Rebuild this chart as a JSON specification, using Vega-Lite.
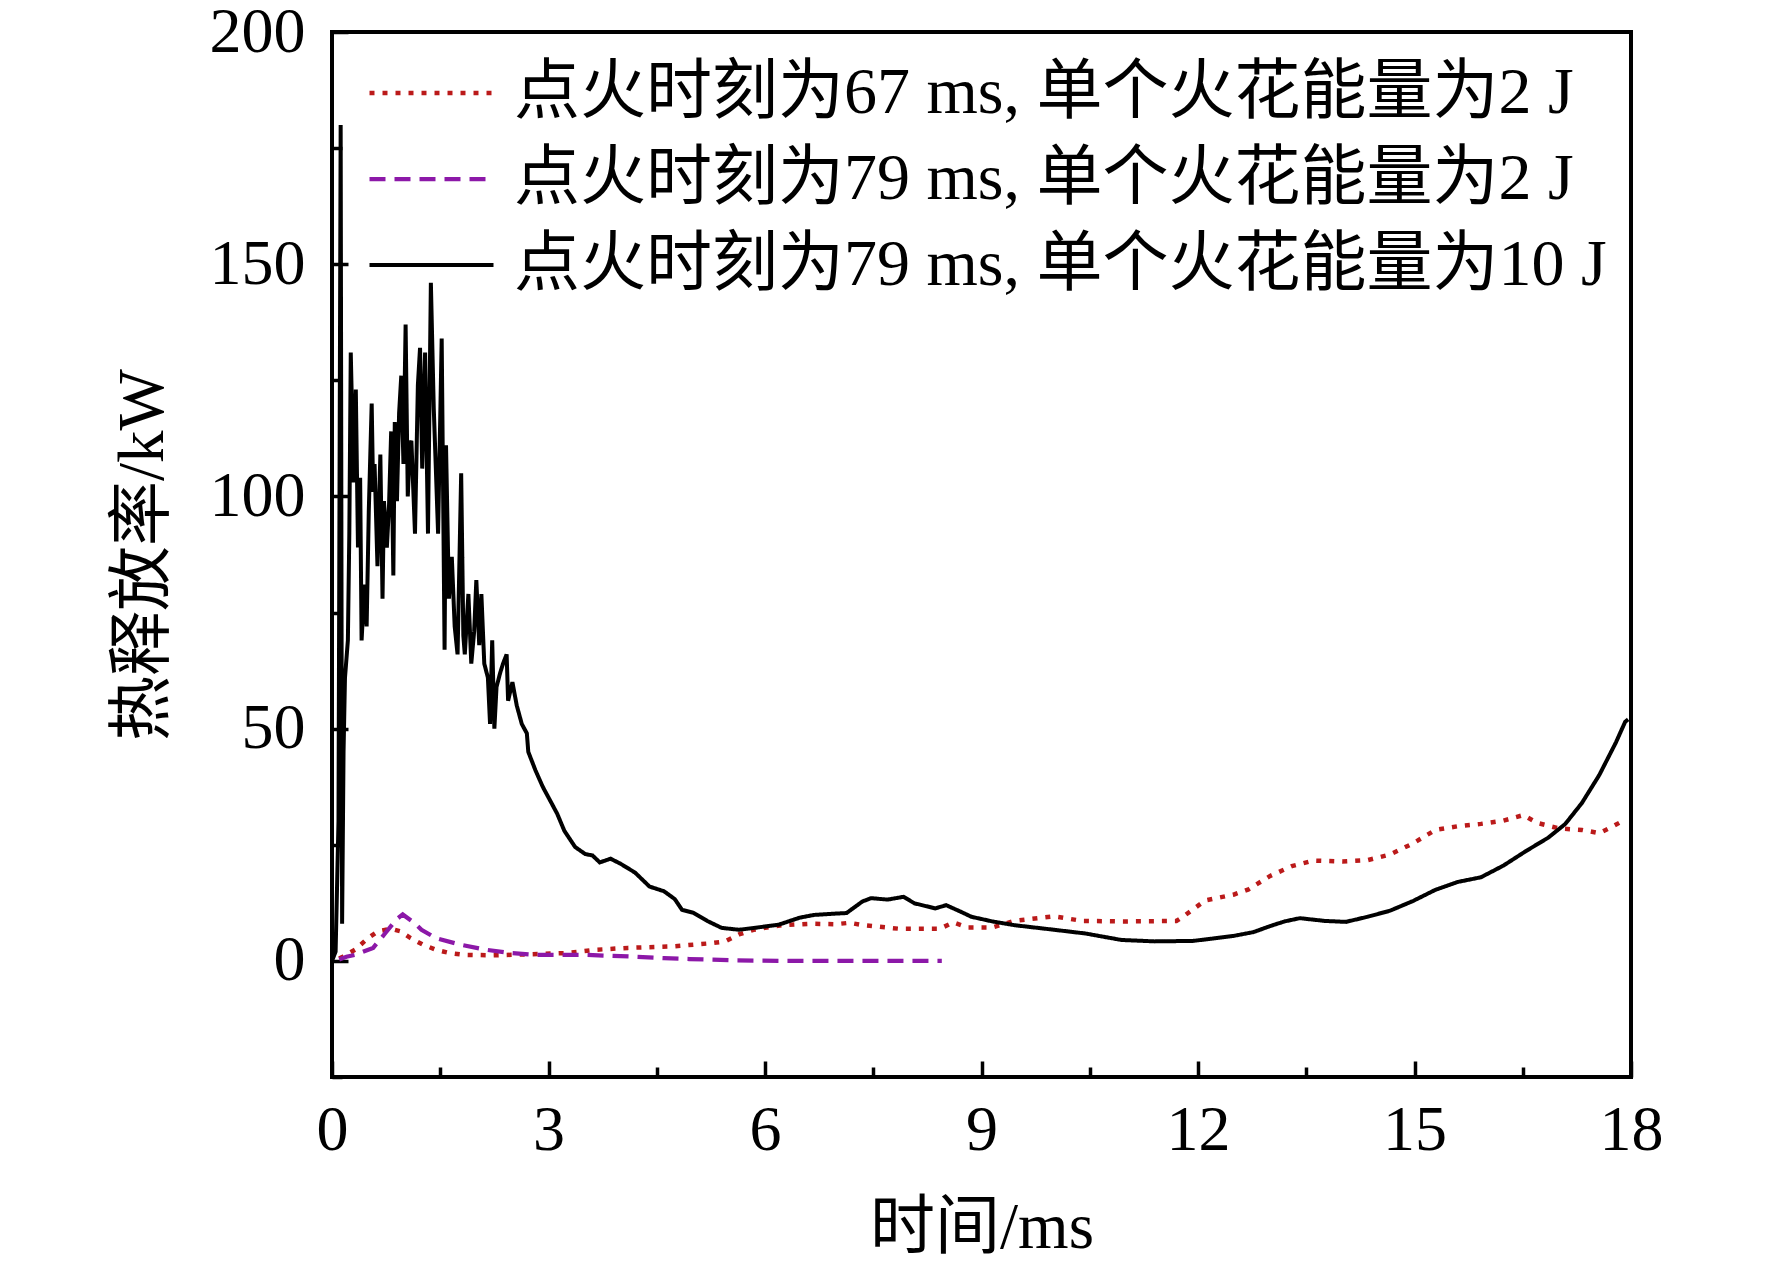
{
  "$schema": "https://vega.github.io/schema/vega-lite/v6.json",
  "description": "热释放率随时间变化",
  "width": 1299,
  "height": 1045,
  "autosize": {"type": "none"},
  "padding": {"left": 332, "top": 32, "right": 141, "bottom": 191},
  "background": "white",
  "config": {
    "view": {"stroke": "black", "strokeWidth": 4},
    "axis": {
      "grid": false,
      "domain": false,
      "tickColor": "black",
      "tickWidth": 3.5,
      "labelColor": "black",
      "labelFont": "Liberation Serif",
      "labelFontSize": 64,
      "labelFlush": false,
      "labelBound": false,
      "labelOverlap": false,
      "titleColor": "black",
      "titleFont": "Liberation Serif, Noto Sans CJK SC",
      "titleFontSize": 65,
      "titleFontWeight": "normal"
    }
  },
  "data": {
    "values": [
      {"series": "点火时刻为67 ms, 单个火花能量为2 J", "t": 0.10, "q": 0.5},
      {"series": "点火时刻为67 ms, 单个火花能量为2 J", "t": 0.15, "q": 0.9},
      {"series": "点火时刻为67 ms, 单个火花能量为2 J", "t": 0.32, "q": 2.4},
      {"series": "点火时刻为67 ms, 单个火花能量为2 J", "t": 0.50, "q": 4.9},
      {"series": "点火时刻为67 ms, 单个火花能量为2 J", "t": 0.64, "q": 6.4},
      {"series": "点火时刻为67 ms, 单个火花能量为2 J", "t": 0.82, "q": 6.9},
      {"series": "点火时刻为67 ms, 单个火花能量为2 J", "t": 0.94, "q": 6.4},
      {"series": "点火时刻为67 ms, 单个火花能量为2 J", "t": 1.09, "q": 4.9},
      {"series": "点火时刻为67 ms, 单个火花能量为2 J", "t": 1.26, "q": 3.5},
      {"series": "点火时刻为67 ms, 单个火花能量为2 J", "t": 1.44, "q": 2.4},
      {"series": "点火时刻为67 ms, 单个火花能量为2 J", "t": 1.63, "q": 1.7},
      {"series": "点火时刻为67 ms, 单个火花能量为2 J", "t": 1.83, "q": 1.3},
      {"series": "点火时刻为67 ms, 单个火花能量为2 J", "t": 2.23, "q": 1.2},
      {"series": "点火时刻为67 ms, 单个火花能量为2 J", "t": 2.72, "q": 1.4},
      {"series": "点火时刻为67 ms, 单个火花能量为2 J", "t": 3.27, "q": 1.7},
      {"series": "点火时刻为67 ms, 单个火花能量为2 J", "t": 3.66, "q": 2.4},
      {"series": "点火时刻为67 ms, 单个火花能量为2 J", "t": 4.10, "q": 2.8},
      {"series": "点火时刻为67 ms, 单个火花能量为2 J", "t": 4.70, "q": 3.1},
      {"series": "点火时刻为67 ms, 单个火花能量为2 J", "t": 5.25, "q": 3.8},
      {"series": "点火时刻为67 ms, 单个火花能量为2 J", "t": 5.45, "q": 4.2},
      {"series": "点火时刻为67 ms, 单个火花能量为2 J", "t": 5.64, "q": 5.7},
      {"series": "点火时刻为67 ms, 单个火花能量为2 J", "t": 5.84, "q": 6.7},
      {"series": "点火时刻为67 ms, 单个火花能量为2 J", "t": 6.24, "q": 7.7},
      {"series": "点火时刻为67 ms, 单个火花能量为2 J", "t": 6.63, "q": 8.0},
      {"series": "点火时刻为67 ms, 单个火花能量为2 J", "t": 6.98, "q": 7.9},
      {"series": "点火时刻为67 ms, 单个火花能量为2 J", "t": 7.17, "q": 8.2},
      {"series": "点火时刻为67 ms, 单个火花能量为2 J", "t": 7.35, "q": 7.7},
      {"series": "点火时刻为67 ms, 单个火花能量为2 J", "t": 7.87, "q": 6.9},
      {"series": "点火时刻为67 ms, 单个火花能量为2 J", "t": 8.42, "q": 6.9},
      {"series": "点火时刻为67 ms, 单个火花能量为2 J", "t": 8.61, "q": 8.3},
      {"series": "点火时刻为67 ms, 单个火花能量为2 J", "t": 8.81, "q": 7.2},
      {"series": "点火时刻为67 ms, 单个火花能量为2 J", "t": 9.15, "q": 7.2},
      {"series": "点火时刻为67 ms, 单个火花能量为2 J", "t": 9.45, "q": 8.6},
      {"series": "点火时刻为67 ms, 单个火花能量为2 J", "t": 10.0, "q": 9.6},
      {"series": "点火时刻为67 ms, 单个火花能量为2 J", "t": 10.4, "q": 8.6},
      {"series": "点火时刻为67 ms, 单个火花能量为2 J", "t": 11.0, "q": 8.5},
      {"series": "点火时刻为67 ms, 单个火花能量为2 J", "t": 11.7, "q": 8.6},
      {"series": "点火时刻为67 ms, 单个火花能量为2 J", "t": 11.8, "q": 9.6},
      {"series": "点火时刻为67 ms, 单个火花能量为2 J", "t": 12.1, "q": 13.0},
      {"series": "点火时刻为67 ms, 单个火花能量为2 J", "t": 12.5, "q": 14.3},
      {"series": "点火时刻为67 ms, 单个火花能量为2 J", "t": 12.7, "q": 15.4},
      {"series": "点火时刻为67 ms, 单个火花能量为2 J", "t": 13.0, "q": 18.3},
      {"series": "点火时刻为67 ms, 单个火花能量为2 J", "t": 13.3, "q": 20.4},
      {"series": "点火时刻为67 ms, 单个火花能量为2 J", "t": 13.6, "q": 21.6},
      {"series": "点火时刻为67 ms, 单个火花能量为2 J", "t": 14.0, "q": 21.4},
      {"series": "点火时刻为67 ms, 单个火花能量为2 J", "t": 14.35, "q": 21.7},
      {"series": "点火时刻为67 ms, 单个火花能量为2 J", "t": 14.66, "q": 22.9},
      {"series": "点火时刻为67 ms, 单个火花能量为2 J", "t": 14.98, "q": 25.3},
      {"series": "点火时刻为67 ms, 单个火花能量为2 J", "t": 15.29, "q": 28.2},
      {"series": "点火时刻为67 ms, 单个火花能量为2 J", "t": 15.6, "q": 29.0},
      {"series": "点火时刻为67 ms, 单个火花能量为2 J", "t": 15.92, "q": 29.5},
      {"series": "点火时刻为67 ms, 单个火花能量为2 J", "t": 16.23, "q": 30.2},
      {"series": "点火时刻为67 ms, 单个火花能量为2 J", "t": 16.51, "q": 31.4},
      {"series": "点火时刻为67 ms, 单个火花能量为2 J", "t": 16.7, "q": 29.7},
      {"series": "点火时刻为67 ms, 单个火花能量为2 J", "t": 17.01, "q": 28.5},
      {"series": "点火时刻为67 ms, 单个火花能量为2 J", "t": 17.32, "q": 28.2},
      {"series": "点火时刻为67 ms, 单个火花能量为2 J", "t": 17.56, "q": 27.5},
      {"series": "点火时刻为67 ms, 单个火花能量为2 J", "t": 17.75, "q": 29.0},
      {"series": "点火时刻为67 ms, 单个火花能量为2 J", "t": 17.87, "q": 30.0},

      {"series": "点火时刻为79 ms, 单个火花能量为2 J", "t": 0.10, "q": 0.3},
      {"series": "点火时刻为79 ms, 单个火花能量为2 J", "t": 0.20, "q": 0.9},
      {"series": "点火时刻为79 ms, 单个火花能量为2 J", "t": 0.32, "q": 1.3},
      {"series": "点火时刻为79 ms, 单个火花能量为2 J", "t": 0.57, "q": 2.8},
      {"series": "点火时刻为79 ms, 单个火花能量为2 J", "t": 0.74, "q": 6.0},
      {"series": "点火时刻为79 ms, 单个火花能量为2 J", "t": 0.89, "q": 8.9},
      {"series": "点火时刻为79 ms, 单个火花能量为2 J", "t": 0.98, "q": 10.0},
      {"series": "点火时刻为79 ms, 单个火花能量为2 J", "t": 1.14, "q": 8.2},
      {"series": "点火时刻为79 ms, 单个火花能量为2 J", "t": 1.24, "q": 6.7},
      {"series": "点火时刻为79 ms, 单个火花能量为2 J", "t": 1.44, "q": 4.9},
      {"series": "点火时刻为79 ms, 单个火花能量为2 J", "t": 1.78, "q": 3.5},
      {"series": "点火时刻为79 ms, 单个火花能量为2 J", "t": 2.13, "q": 2.4},
      {"series": "点火时刻为79 ms, 单个火花能量为2 J", "t": 2.48, "q": 1.7},
      {"series": "点火时刻为79 ms, 单个火花能量为2 J", "t": 2.82, "q": 1.3},
      {"series": "点火时刻为79 ms, 单个火花能量为2 J", "t": 3.51, "q": 1.3},
      {"series": "点火时刻为79 ms, 单个火花能量为2 J", "t": 3.86, "q": 1.1},
      {"series": "点火时刻为79 ms, 单个火花能量为2 J", "t": 4.20, "q": 0.9},
      {"series": "点火时刻为79 ms, 单个火花能量为2 J", "t": 4.60, "q": 0.6},
      {"series": "点火时刻为79 ms, 单个火花能量为2 J", "t": 4.95, "q": 0.4},
      {"series": "点火时刻为79 ms, 单个火花能量为2 J", "t": 5.60, "q": 0.1},
      {"series": "点火时刻为79 ms, 单个火花能量为2 J", "t": 6.30, "q": 0.0},
      {"series": "点火时刻为79 ms, 单个火花能量为2 J", "t": 7.50, "q": 0.0},
      {"series": "点火时刻为79 ms, 单个火花能量为2 J", "t": 8.45, "q": 0.0},

      {"series": "点火时刻为79 ms, 单个火花能量为10 J", "t": 0.00, "q": 0},
      {"series": "点火时刻为79 ms, 单个火花能量为10 J", "t": 0.05, "q": 2},
      {"series": "点火时刻为79 ms, 单个火花能量为10 J", "t": 0.09, "q": 30},
      {"series": "点火时刻为79 ms, 单个火花能量为10 J", "t": 0.12, "q": 180},
      {"series": "点火时刻为79 ms, 单个火花能量为10 J", "t": 0.14, "q": 8},
      {"series": "点火时刻为79 ms, 单个火花能量为10 J", "t": 0.16, "q": 45},
      {"series": "点火时刻为79 ms, 单个火花能量为10 J", "t": 0.18, "q": 61},
      {"series": "点火时刻为79 ms, 单个火花能量为10 J", "t": 0.22, "q": 69},
      {"series": "点火时刻为79 ms, 单个火花能量为10 J", "t": 0.24, "q": 92},
      {"series": "点火时刻为79 ms, 单个火花能量为10 J", "t": 0.26, "q": 131},
      {"series": "点火时刻为79 ms, 单个火花能量为10 J", "t": 0.30, "q": 103},
      {"series": "点火时刻为79 ms, 单个火花能量为10 J", "t": 0.33, "q": 123},
      {"series": "点火时刻为79 ms, 单个火花能量为10 J", "t": 0.36, "q": 89},
      {"series": "点火时刻为79 ms, 单个火花能量为10 J", "t": 0.39, "q": 104},
      {"series": "点火时刻为79 ms, 单个火花能量为10 J", "t": 0.41, "q": 69},
      {"series": "点火时刻为79 ms, 单个火花能量为10 J", "t": 0.45, "q": 81},
      {"series": "点火时刻为79 ms, 单个火花能量为10 J", "t": 0.48, "q": 72},
      {"series": "点火时刻为79 ms, 单个火花能量为10 J", "t": 0.51, "q": 97},
      {"series": "点火时刻为79 ms, 单个火花能量为10 J", "t": 0.55, "q": 120},
      {"series": "点火时刻为79 ms, 单个火花能量为10 J", "t": 0.57, "q": 101},
      {"series": "点火时刻为79 ms, 单个火花能量为10 J", "t": 0.59, "q": 107},
      {"series": "点火时刻为79 ms, 单个火花能量为10 J", "t": 0.63, "q": 85},
      {"series": "点火时刻为79 ms, 单个火花能量为10 J", "t": 0.67, "q": 109},
      {"series": "点火时刻为79 ms, 单个火花能量为10 J", "t": 0.70, "q": 78},
      {"series": "点火时刻为79 ms, 单个火花能量为10 J", "t": 0.72, "q": 99},
      {"series": "点火时刻为79 ms, 单个火花能量为10 J", "t": 0.76, "q": 89},
      {"series": "点火时刻为79 ms, 单个火花能量为10 J", "t": 0.79, "q": 98},
      {"series": "点火时刻为79 ms, 单个火花能量为10 J", "t": 0.82, "q": 114},
      {"series": "点火时刻为79 ms, 单个火花能量为10 J", "t": 0.85, "q": 83},
      {"series": "点火时刻为79 ms, 单个火花能量为10 J", "t": 0.87, "q": 116},
      {"series": "点火时刻为79 ms, 单个火花能量为10 J", "t": 0.90, "q": 99},
      {"series": "点火时刻为79 ms, 单个火花能量为10 J", "t": 0.93, "q": 118},
      {"series": "点火时刻为79 ms, 单个火花能量为10 J", "t": 0.96, "q": 126},
      {"series": "点火时刻为79 ms, 单个火花能量为10 J", "t": 0.99, "q": 107},
      {"series": "点火时刻为79 ms, 单个火花能量为10 J", "t": 1.02, "q": 137},
      {"series": "点火时刻为79 ms, 单个火花能量为10 J", "t": 1.05, "q": 100},
      {"series": "点火时刻为79 ms, 单个火花能量为10 J", "t": 1.08, "q": 111},
      {"series": "点火时刻为79 ms, 单个火花能量为10 J", "t": 1.10, "q": 112},
      {"series": "点火时刻为79 ms, 单个火花能量为10 J", "t": 1.15, "q": 92},
      {"series": "点火时刻为79 ms, 单个火花能量为10 J", "t": 1.19, "q": 124},
      {"series": "点火时刻为79 ms, 单个火花能量为10 J", "t": 1.22, "q": 132},
      {"series": "点火时刻为79 ms, 单个火花能量为10 J", "t": 1.25, "q": 106},
      {"series": "点火时刻为79 ms, 单个火花能量为10 J", "t": 1.29, "q": 131},
      {"series": "点火时刻为79 ms, 单个火花能量为10 J", "t": 1.33, "q": 92},
      {"series": "点火时刻为79 ms, 单个火花能量为10 J", "t": 1.37, "q": 146},
      {"series": "点火时刻为79 ms, 单个火花能量为10 J", "t": 1.41, "q": 119},
      {"series": "点火时刻为79 ms, 单个火花能量为10 J", "t": 1.43, "q": 110},
      {"series": "点火时刻为79 ms, 单个火花能量为10 J", "t": 1.47, "q": 92},
      {"series": "点火时刻为79 ms, 单个火花能量为10 J", "t": 1.52, "q": 134},
      {"series": "点火时刻为79 ms, 单个火花能量为10 J", "t": 1.56, "q": 67},
      {"series": "点火时刻为79 ms, 单个火花能量为10 J", "t": 1.58, "q": 111},
      {"series": "点火时刻为79 ms, 单个火花能量为10 J", "t": 1.62, "q": 78},
      {"series": "点火时刻为79 ms, 单个火花能量为10 J", "t": 1.66, "q": 87},
      {"series": "点火时刻为79 ms, 单个火花能量为10 J", "t": 1.70, "q": 72},
      {"series": "点火时刻为79 ms, 单个火花能量为10 J", "t": 1.74, "q": 66},
      {"series": "点火时刻为79 ms, 单个火花能量为10 J", "t": 1.79, "q": 105},
      {"series": "点火时刻为79 ms, 单个火花能量为10 J", "t": 1.82, "q": 70},
      {"series": "点火时刻为79 ms, 单个火花能量为10 J", "t": 1.84, "q": 66},
      {"series": "点火时刻为79 ms, 单个火花能量为10 J", "t": 1.89, "q": 79},
      {"series": "点火时刻为79 ms, 单个火花能量为10 J", "t": 1.93, "q": 64},
      {"series": "点火时刻为79 ms, 单个火花能量为10 J", "t": 1.97, "q": 71},
      {"series": "点火时刻为79 ms, 单个火花能量为10 J", "t": 2.00, "q": 82},
      {"series": "点火时刻为79 ms, 单个火花能量为10 J", "t": 2.04, "q": 68},
      {"series": "点火时刻为79 ms, 单个火花能量为10 J", "t": 2.07, "q": 79},
      {"series": "点火时刻为79 ms, 单个火花能量为10 J", "t": 2.11, "q": 64},
      {"series": "点火时刻为79 ms, 单个火花能量为10 J", "t": 2.16, "q": 61},
      {"series": "点火时刻为79 ms, 单个火花能量为10 J", "t": 2.19, "q": 51},
      {"series": "点火时刻为79 ms, 单个火花能量为10 J", "t": 2.22, "q": 69},
      {"series": "点火时刻为79 ms, 单个火花能量为10 J", "t": 2.25, "q": 50},
      {"series": "点火时刻为79 ms, 单个火花能量为10 J", "t": 2.28, "q": 59},
      {"series": "点火时刻为79 ms, 单个火花能量为10 J", "t": 2.33, "q": 62},
      {"series": "点火时刻为79 ms, 单个火花能量为10 J", "t": 2.37, "q": 64},
      {"series": "点火时刻为79 ms, 单个火花能量为10 J", "t": 2.42, "q": 66},
      {"series": "点火时刻为79 ms, 单个火花能量为10 J", "t": 2.44, "q": 56},
      {"series": "点火时刻为79 ms, 单个火花能量为10 J", "t": 2.50, "q": 60},
      {"series": "点火时刻为79 ms, 单个火花能量为10 J", "t": 2.56, "q": 55},
      {"series": "点火时刻为79 ms, 单个火花能量为10 J", "t": 2.63, "q": 51},
      {"series": "点火时刻为79 ms, 单个火花能量为10 J", "t": 2.70, "q": 49},
      {"series": "点火时刻为79 ms, 单个火花能量为10 J", "t": 2.72, "q": 45},
      {"series": "点火时刻为79 ms, 单个火花能量为10 J", "t": 2.82, "q": 41},
      {"series": "点火时刻为79 ms, 单个火花能量为10 J", "t": 2.92, "q": 37.5},
      {"series": "点火时刻为79 ms, 单个火花能量为10 J", "t": 3.02, "q": 34.6},
      {"series": "点火时刻为79 ms, 单个火花能量为10 J", "t": 3.12, "q": 31.7},
      {"series": "点火时刻为79 ms, 单个火花能量为10 J", "t": 3.22, "q": 28},
      {"series": "点火时刻为79 ms, 单个火花能量为10 J", "t": 3.37, "q": 24.5},
      {"series": "点火时刻为79 ms, 单个火花能量为10 J", "t": 3.51, "q": 23},
      {"series": "点火时刻为79 ms, 单个火花能量为10 J", "t": 3.61, "q": 22.7},
      {"series": "点火时刻为79 ms, 单个火花能量为10 J", "t": 3.71, "q": 21.2},
      {"series": "点火时刻为79 ms, 单个火花能量为10 J", "t": 3.86, "q": 22},
      {"series": "点火时刻为79 ms, 单个火花能量为10 J", "t": 4.00, "q": 20.9},
      {"series": "点火时刻为79 ms, 单个火花能量为10 J", "t": 4.20, "q": 19},
      {"series": "点火时刻为79 ms, 单个火花能量为10 J", "t": 4.40, "q": 16},
      {"series": "点火时刻为79 ms, 单个火花能量为10 J", "t": 4.60, "q": 15},
      {"series": "点火时刻为79 ms, 单个火花能量为10 J", "t": 4.75, "q": 13.3},
      {"series": "点火时刻为79 ms, 单个火花能量为10 J", "t": 4.85, "q": 11},
      {"series": "点火时刻为79 ms, 单个火花能量为10 J", "t": 5.00, "q": 10.4},
      {"series": "点火时刻为79 ms, 单个火花能量为10 J", "t": 5.20, "q": 8.6},
      {"series": "点火时刻为79 ms, 单个火花能量为10 J", "t": 5.40, "q": 7.1},
      {"series": "点火时刻为79 ms, 单个火花能量为10 J", "t": 5.64, "q": 6.7},
      {"series": "点火时刻为79 ms, 单个火花能量为10 J", "t": 5.90, "q": 7.2},
      {"series": "点火时刻为79 ms, 单个火花能量为10 J", "t": 6.19, "q": 7.8},
      {"series": "点火时刻为79 ms, 单个火花能量为10 J", "t": 6.48, "q": 9.3},
      {"series": "点火时刻为79 ms, 单个火花能量为10 J", "t": 6.68, "q": 9.9},
      {"series": "点火时刻为79 ms, 单个火花能量为10 J", "t": 7.00, "q": 10.2},
      {"series": "点火时刻为79 ms, 单个火花能量为10 J", "t": 7.13, "q": 10.3},
      {"series": "点火时刻为79 ms, 单个火花能量为10 J", "t": 7.35, "q": 12.8},
      {"series": "点火时刻为79 ms, 单个火花能量为10 J", "t": 7.47, "q": 13.5},
      {"series": "点火时刻为79 ms, 单个火花能量为10 J", "t": 7.70, "q": 13.2},
      {"series": "点火时刻为79 ms, 单个火花能量为10 J", "t": 7.92, "q": 13.8},
      {"series": "点火时刻为79 ms, 单个火花能量为10 J", "t": 8.07, "q": 12.4},
      {"series": "点火时刻为79 ms, 单个火花能量为10 J", "t": 8.36, "q": 11.3},
      {"series": "点火时刻为79 ms, 单个火花能量为10 J", "t": 8.51, "q": 12},
      {"series": "点火时刻为79 ms, 单个火花能量为10 J", "t": 8.71, "q": 10.6},
      {"series": "点火时刻为79 ms, 单个火花能量为10 J", "t": 8.86, "q": 9.5},
      {"series": "点火时刻为79 ms, 单个火花能量为10 J", "t": 9.15, "q": 8.5},
      {"series": "点火时刻为79 ms, 单个火花能量为10 J", "t": 9.45, "q": 7.7},
      {"series": "点火时刻为79 ms, 单个火花能量为10 J", "t": 9.95, "q": 6.8},
      {"series": "点火时刻为79 ms, 单个火花能量为10 J", "t": 10.44, "q": 5.9},
      {"series": "点火时刻为79 ms, 单个火花能量为10 J", "t": 10.94, "q": 4.5},
      {"series": "点火时刻为79 ms, 单个火花能量为10 J", "t": 11.40, "q": 4.2},
      {"series": "点火时刻为79 ms, 单个火花能量为10 J", "t": 11.93, "q": 4.3},
      {"series": "点火时刻为79 ms, 单个火花能量为10 J", "t": 12.20, "q": 4.8},
      {"series": "点火时刻为79 ms, 单个火花能量为10 J", "t": 12.50, "q": 5.4},
      {"series": "点火时刻为79 ms, 单个火花能量为10 J", "t": 12.77, "q": 6.2},
      {"series": "点火时刻为79 ms, 单个火花能量为10 J", "t": 13.00, "q": 7.5},
      {"series": "点火时刻为79 ms, 单个火花能量为10 J", "t": 13.20, "q": 8.5},
      {"series": "点火时刻为79 ms, 单个火花能量为10 J", "t": 13.41, "q": 9.2},
      {"series": "点火时刻为79 ms, 单个火花能量为10 J", "t": 13.76, "q": 8.6},
      {"series": "点火时刻为79 ms, 单个火花能量为10 J", "t": 14.05, "q": 8.4},
      {"series": "点火时刻为79 ms, 单个火花能量为10 J", "t": 14.35, "q": 9.5},
      {"series": "点火时刻为79 ms, 单个火花能量为10 J", "t": 14.66, "q": 10.8},
      {"series": "点火时刻为79 ms, 单个火花能量为10 J", "t": 14.98, "q": 12.9},
      {"series": "点火时刻为79 ms, 单个火花能量为10 J", "t": 15.29, "q": 15.3},
      {"series": "点火时刻为79 ms, 单个火花能量为10 J", "t": 15.60, "q": 17},
      {"series": "点火时刻为79 ms, 单个火花能量为10 J", "t": 15.92, "q": 18},
      {"series": "点火时刻为79 ms, 单个火花能量为10 J", "t": 16.23, "q": 20.5},
      {"series": "点火时刻为79 ms, 单个火花能量为10 J", "t": 16.54, "q": 23.6},
      {"series": "点火时刻为79 ms, 单个火花能量为10 J", "t": 16.85, "q": 26.5},
      {"series": "点火时刻为79 ms, 单个火花能量为10 J", "t": 17.09, "q": 29.5},
      {"series": "点火时刻为79 ms, 单个火花能量为10 J", "t": 17.32, "q": 34},
      {"series": "点火时刻为79 ms, 单个火花能量为10 J", "t": 17.56, "q": 40},
      {"series": "点火时刻为79 ms, 单个火花能量为10 J", "t": 17.79, "q": 47},
      {"series": "点火时刻为79 ms, 单个火花能量为10 J", "t": 17.92, "q": 51.5},
      {"series": "点火时刻为79 ms, 单个火花能量为10 J", "t": 17.96, "q": 52}
    ]
  },
  "mark": {"type": "line", "clip": true},
  "encoding": {
    "x": {
      "field": "t",
      "type": "quantitative",
      "title": "时间/ms",
      "scale": {"domain": [0, 18], "nice": false, "zero": false},
      "axis": {
        "values": [0, 1.5, 3, 4.5, 6, 7.5, 9, 10.5, 12, 13.5, 15, 16.5, 18],
        "labelExpr": "datum.value % 3 === 0 ? format(datum.value, 'd') : ''",
        "tickSize": {"condition": {"test": "datum.value % 3 === 0", "value": -16}, "value": -10},
        "labelPadding": 37,
        "titlePadding": 28
      }
    },
    "y": {
      "field": "q",
      "type": "quantitative",
      "title": "热释放率/kW",
      "scale": {"domain": [-25, 200], "nice": false, "zero": false},
      "axis": {
        "values": [-25, 0, 25, 50, 75, 100, 125, 150, 175, 200],
        "labelExpr": "datum.value % 50 === 0 ? format(datum.value, 'd') : ''",
        "tickSize": {"condition": {"test": "datum.value % 50 === 0", "value": -16}, "value": -10},
        "labelPadding": 43,
        "titlePadding": 33
      }
    },
    "order": {"field": "t", "type": "quantitative"},
    "color": {
      "field": "series",
      "type": "nominal",
      "scale": {
        "domain": ["点火时刻为67 ms, 单个火花能量为2 J", "点火时刻为79 ms, 单个火花能量为2 J", "点火时刻为79 ms, 单个火花能量为10 J"],
        "range": ["#bb1a1a", "#8c18a8", "#000000"]
      },
      "legend": {
        "title": null,
        "orient": "none",
        "legendX": 35,
        "legendY": 28,
        "padding": 0,
        "symbolType": "stroke",
        "symbolSize": 15376,
        "symbolStrokeWidth": 3.5,
        "clipHeight": 66,
        "labelFont": "Liberation Serif, Noto Sans CJK SC",
        "labelFontSize": 66,
        "labelColor": "black",
        "labelLimit": 1400,
        "labelOffset": 18,
        "rowPadding": 20
      }
    },
    "strokeDash": {
      "field": "series",
      "type": "nominal",
      "scale": {
        "domain": ["点火时刻为67 ms, 单个火花能量为2 J", "点火时刻为79 ms, 单个火花能量为2 J", "点火时刻为79 ms, 单个火花能量为10 J"],
        "range": [[5, 8], [16, 9], [1, 0]]
      },
      "legend": null
    },
    "strokeWidth": {
      "field": "series",
      "type": "nominal",
      "scale": {
        "domain": ["点火时刻为67 ms, 单个火花能量为2 J", "点火时刻为79 ms, 单个火花能量为2 J", "点火时刻为79 ms, 单个火花能量为10 J"],
        "range": [4.5, 4, 3.5]
      },
      "legend": null
    }
  }
}
